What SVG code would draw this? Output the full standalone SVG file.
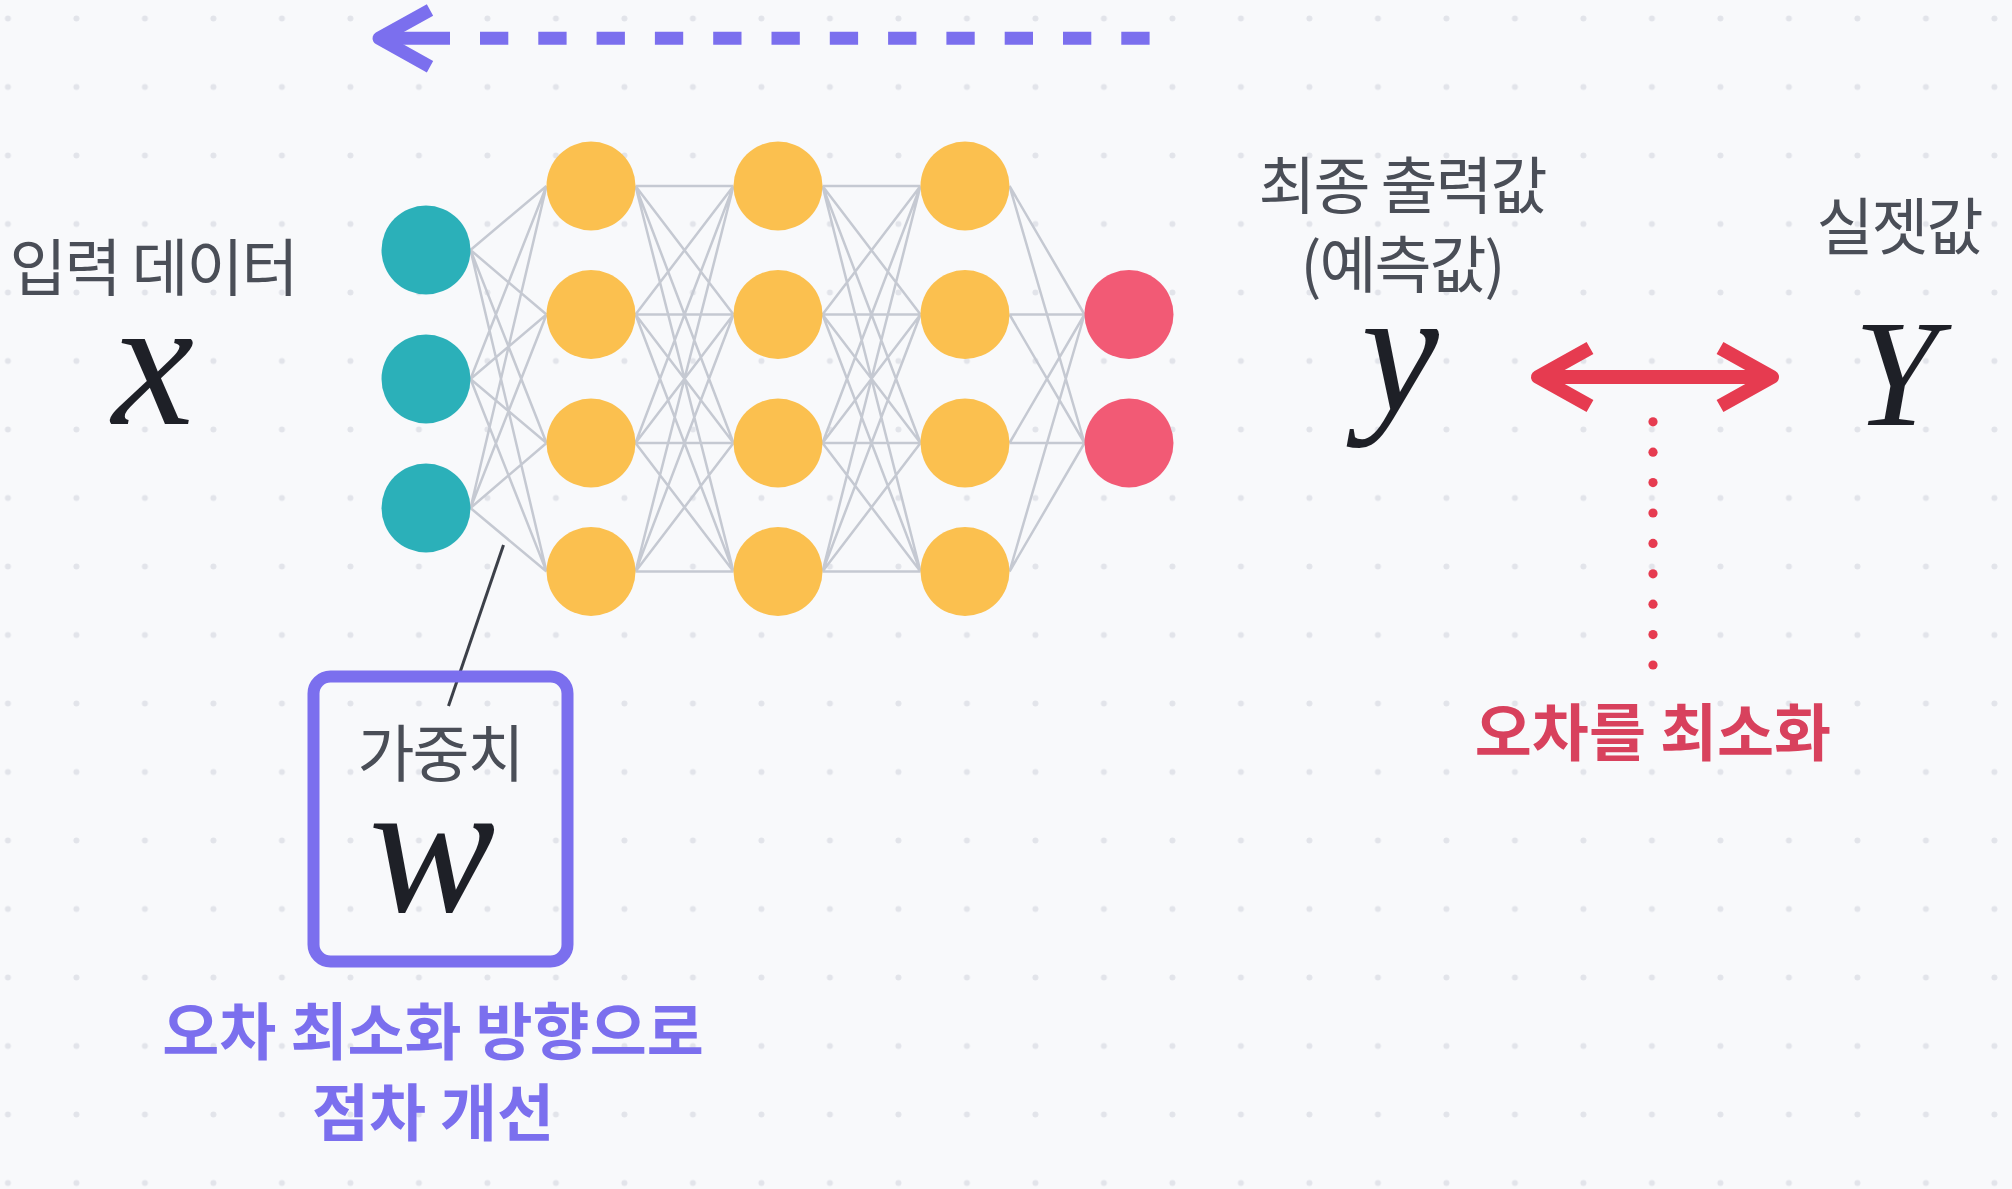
<svg xmlns="http://www.w3.org/2000/svg" width="2012" height="1189" viewBox="0 0 2012 1189">
<defs>
<pattern id="grid" patternUnits="userSpaceOnUse" x="-26.35" y="-15.75" width="68.5" height="68.5">
<circle cx="34.25" cy="34.25" r="3" fill="#E2E4EA"/>
</pattern>
<style>
.lbl{font-family:"Noto Sans CJK KR","Noto Sans",sans-serif;fill:#4A4E57;font-size:62px;text-anchor:middle;letter-spacing:-2px}
.math{font-family:"Liberation Serif","DejaVu Serif",serif;font-style:italic;fill:#1E2027;text-anchor:middle}
.edge{stroke:#C5C9D2;stroke-width:2.5;fill:none}
.in{fill:#2BB0B9}.hid{fill:#FBC04F}.out{fill:#F25A75}
.purple{font-family:"Noto Sans CJK KR","Noto Sans",sans-serif;fill:#7B6FEE;font-size:62px;font-weight:600;text-anchor:middle}
.redt{font-family:"Noto Sans CJK KR","Noto Sans",sans-serif;fill:#D8415D;font-size:62px;font-weight:600;text-anchor:middle}
</style>
</defs>
<rect width="2012" height="1189" fill="#F8F9FB"/>
<rect width="2012" height="1189" fill="url(#grid)"/>

<g id="connectors">
<path class="edge" d="M470.5 250L546.5 186M470.5 250L546.5 314.5M470.5 250L546.5 443M470.5 250L546.5 571.5M470.5 379L546.5 186M470.5 379L546.5 314.5M470.5 379L546.5 443M470.5 379L546.5 571.5M470.5 508L546.5 186M470.5 508L546.5 314.5M470.5 508L546.5 443M470.5 508L546.5 571.5"/>
<path class="edge" d="M635.5 186L733.5 186M635.5 186L733.5 314.5M635.5 186L733.5 443M635.5 186L733.5 571.5M635.5 314.5L733.5 186M635.5 314.5L733.5 314.5M635.5 314.5L733.5 443M635.5 314.5L733.5 571.5M635.5 443L733.5 186M635.5 443L733.5 314.5M635.5 443L733.5 443M635.5 443L733.5 571.5M635.5 571.5L733.5 186M635.5 571.5L733.5 314.5M635.5 571.5L733.5 443M635.5 571.5L733.5 571.5"/>
<path class="edge" d="M822.5 186L920.5 186M822.5 186L920.5 314.5M822.5 186L920.5 443M822.5 186L920.5 571.5M822.5 314.5L920.5 186M822.5 314.5L920.5 314.5M822.5 314.5L920.5 443M822.5 314.5L920.5 571.5M822.5 443L920.5 186M822.5 443L920.5 314.5M822.5 443L920.5 443M822.5 443L920.5 571.5M822.5 571.5L920.5 186M822.5 571.5L920.5 314.5M822.5 571.5L920.5 443M822.5 571.5L920.5 571.5"/>
<path class="edge" d="M1009.5 186L1084.5 314.5M1009.5 186L1084.5 443M1009.5 314.5L1084.5 314.5M1009.5 314.5L1084.5 443M1009.5 443L1084.5 314.5M1009.5 443L1084.5 443M1009.5 571.5L1084.5 314.5M1009.5 571.5L1084.5 443"/>
<line x1="503.5" y1="545" x2="448.5" y2="706" stroke="#3C4049" stroke-width="3"/>
</g>

<g id="backprop-arrow" fill="none" stroke="#7B6FEE" stroke-width="13">
<path d="M430 10L379 38.3L430 66.7" stroke-linejoin="round"/>
<path d="M381 38.3H450"/>
<path d="M480 38.3H1150" stroke-dasharray="28.3 30"/>
</g>

<g id="input-layer">
<circle class="in" cx="426" cy="250" r="44.5"/>
<circle class="in" cx="426" cy="379" r="44.5"/>
<circle class="in" cx="426" cy="508" r="44.5"/>
</g>
<g id="hidden-layer-1">
<circle class="hid" cx="591" cy="186" r="44.5"/>
<circle class="hid" cx="591" cy="314.5" r="44.5"/>
<circle class="hid" cx="591" cy="443" r="44.5"/>
<circle class="hid" cx="591" cy="571.5" r="44.5"/>
</g>
<g id="hidden-layer-2">
<circle class="hid" cx="778" cy="186" r="44.5"/>
<circle class="hid" cx="778" cy="314.5" r="44.5"/>
<circle class="hid" cx="778" cy="443" r="44.5"/>
<circle class="hid" cx="778" cy="571.5" r="44.5"/>
</g>
<g id="hidden-layer-3">
<circle class="hid" cx="965" cy="186" r="44.5"/>
<circle class="hid" cx="965" cy="314.5" r="44.5"/>
<circle class="hid" cx="965" cy="443" r="44.5"/>
<circle class="hid" cx="965" cy="571.5" r="44.5"/>
</g>
<g id="output-layer">
<circle class="out" cx="1129" cy="314.5" r="44.5"/>
<circle class="out" cx="1129" cy="443" r="44.5"/>
</g>

<g id="input-label">
<text class="lbl" x="153" y="291">입력 데이터</text>
<text class="math" x="153" y="424" font-size="185">x</text>
</g>

<g id="prediction-label">
<text class="lbl" x="1402" y="209">최종 출력값</text>
<text class="lbl" x="1402" y="288">(예측값)</text>
<text class="math" x="1400" y="410" font-size="175">y</text>
</g>

<g id="actual-label">
<text class="lbl" x="1899" y="250">실젯값</text>
<text class="math" x="1896" y="425" font-size="152">Y</text>
</g>

<g id="error-arrow" fill="none" stroke="#E63B50" stroke-width="14">
<path d="M1590 348L1538 377L1590 406" stroke-linejoin="round"/>
<path d="M1720 348L1772 377L1720 406" stroke-linejoin="round"/>
<path d="M1541 377H1769"/>
</g>
<g id="error-dots" fill="#E63B50">
<circle cx="1653" cy="421.8" r="4.6"/>
<circle cx="1653" cy="452.2" r="4.6"/>
<circle cx="1653" cy="482.6" r="4.6"/>
<circle cx="1653" cy="513" r="4.6"/>
<circle cx="1653" cy="543.4" r="4.6"/>
<circle cx="1653" cy="573.8" r="4.6"/>
<circle cx="1653" cy="604.2" r="4.6"/>
<circle cx="1653" cy="634.6" r="4.6"/>
<circle cx="1653" cy="665" r="4.6"/>
</g>
<g id="error-label">
<text class="redt" x="1653" y="756">오차를 최소화</text>
</g>

<g id="weight-box">
<rect x="313.5" y="676.5" width="254" height="285" rx="17" fill="none" stroke="#7B6FEE" stroke-width="12"/>
<text class="lbl" x="440" y="777">가중치</text>
<text class="math" x="432" y="911" font-size="190">w</text>
</g>

<g id="weight-caption">
<text class="purple" x="433" y="1055">오차 최소화 방향으로</text>
<text class="purple" x="433" y="1136">점차 개선</text>
</g>
</svg>
